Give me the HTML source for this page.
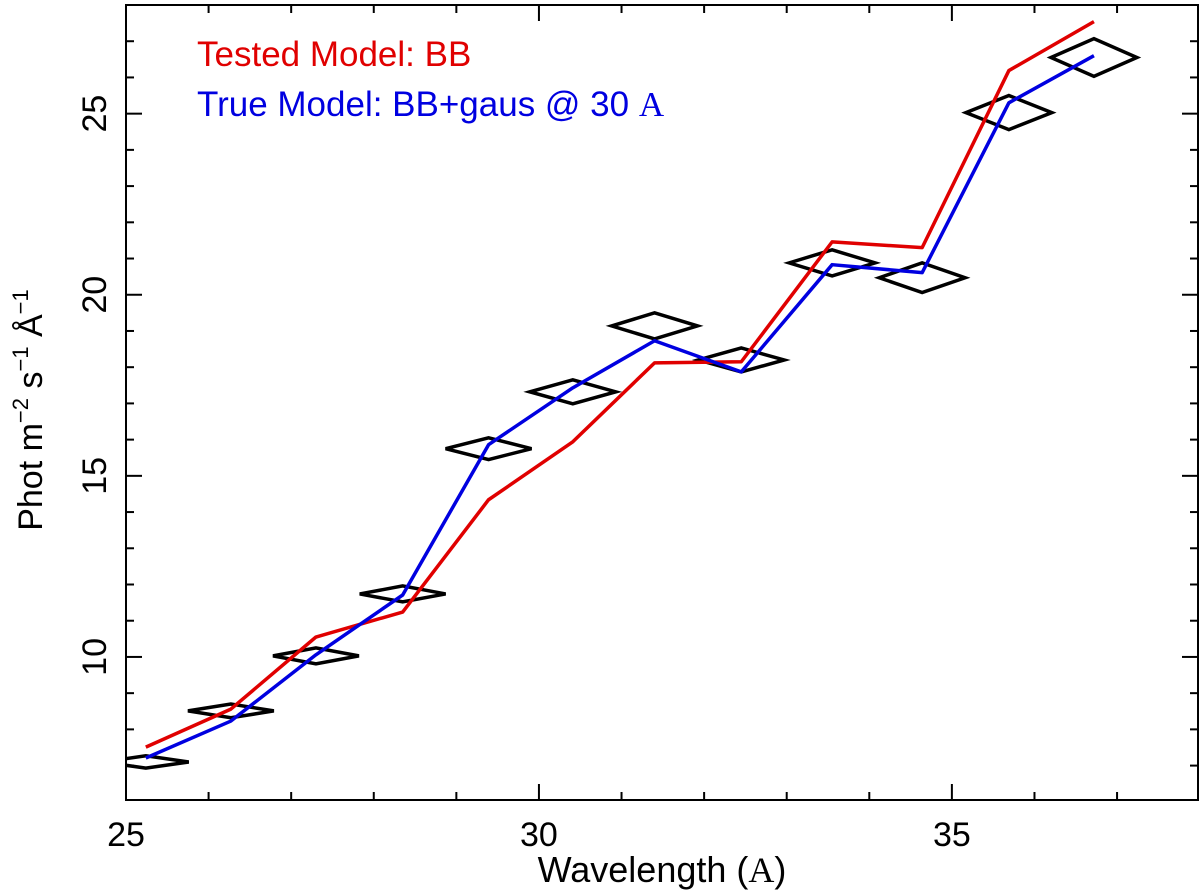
<!DOCTYPE html>
<html><head><meta charset="utf-8"><style>
html,body{margin:0;padding:0;background:#fff;}
svg{display:block;font-family:"Liberation Sans",sans-serif;}
</style></head><body>
<svg id="chart" width="1200" height="892" xmlns="http://www.w3.org/2000/svg">
<g id="ticks"></g>
<g id="data"></g>
<polyline id="red" fill="none" stroke="#e00000" stroke-width="3.5" stroke-linejoin="round"/>
<polyline id="blue" fill="none" stroke="#0000e0" stroke-width="3.5" stroke-linejoin="round"/>
<rect x="126" y="5" width="1072" height="795" fill="none" stroke="#000" stroke-width="2"/>
<text x="197" y="66" font-size="35" fill="#e00000">Tested Model: BB</text>
<text x="197" y="116" font-size="35" fill="#0000e0">True Model: BB+gaus @ 30 <tspan font-family="Liberation Serif, serif">A</tspan></text>
<text x="662" y="882" font-size="36" text-anchor="middle">Wavelength (<tspan font-family="Liberation Serif, serif">A</tspan>)</text>
<text transform="translate(42,410) rotate(-90)" font-size="34" text-anchor="middle">Phot m<tspan font-size="22" dy="-14">−2</tspan><tspan dy="14"> s</tspan><tspan font-size="22" dy="-14">−1</tspan><tspan dy="14"> Å</tspan><tspan font-size="22" dy="-14">−1</tspan></text>
<g id="labels"></g>
</svg>
<script>
const wavelength=[25.24,26.27,27.30,28.35,29.39,30.41,31.40,32.45,33.55,34.64,35.69,36.72];
const dataFlux=[7.10,8.51,10.03,11.74,15.75,17.32,19.14,18.20,20.88,20.47,25.03,26.55];
const dataErr=[0.17,0.19,0.22,0.22,0.30,0.33,0.36,0.33,0.36,0.41,0.47,0.52];
const binHalf=[0.52,0.52,0.52,0.52,0.52,0.52,0.52,0.52,0.52,0.52,0.52,0.52];
const testedModel=[7.51,8.56,10.55,11.24,14.34,15.94,18.12,18.15,21.46,21.30,26.19,27.54];
const trueModel=[7.21,8.23,10.06,11.71,15.86,17.43,18.73,17.87,20.83,20.61,25.30,26.60];
const xTickLabels=[25,30,35];
const yTickLabels=[10,15,20,25];
const X0=126,X1=1198,Y0=5,Y1=800,xmin=25,xmax=37.98,ymin=6.05,ymax=28.0;
const sx=v=>X0+(v-xmin)/(xmax-xmin)*(X1-X0);
const sy=v=>Y1-(v-ymin)/(ymax-ymin)*(Y1-Y0);
const NS="http://www.w3.org/2000/svg";
function mk(t,a){const e=document.createElementNS(NS,t);for(const k in a)e.setAttribute(k,a[k]);return e;}
const ticks=document.getElementById('ticks'),labels=document.getElementById('labels');
for(let v=25;v<=37;v++){const maj=v%5===0,L=maj?16:8,x=sx(v);
 const t1=mk('line',{x1:x,x2:x,y1:Y1,y2:Y1-L,stroke:'#000','stroke-width':2});
 ticks.appendChild(t1);
 const t2=mk('line',{x1:x,x2:x,y1:Y0,y2:Y0+L,stroke:'#000','stroke-width':2});
 ticks.appendChild(t2);}
for(let v=7;v<=28;v++){const maj=v%5===0,L=maj?16:8,y=sy(v);
 const t1=mk('line',{x1:X0,x2:X0+L,y1:y,y2:y,stroke:'#000','stroke-width':2});
 ticks.appendChild(t1);
 const t2=mk('line',{x1:X1,x2:X1-L,y1:y,y2:y,stroke:'#000','stroke-width':2});
 ticks.appendChild(t2);}
xTickLabels.forEach(v=>{const t=mk('text',{x:sx(v),y:846,'font-size':34,'text-anchor':'middle'});t.textContent=v;
 labels.appendChild(t);});
yTickLabels.forEach(v=>{const t=mk('text',{transform:`translate(${106},${sy(v)}) rotate(-90)`,'font-size':34,'text-anchor':'middle'});t.textContent=v;
 labels.appendChild(t);});
const dg=document.getElementById('data');
const cp=mk('clipPath',{id:'clip'});cp.appendChild(mk('rect',{x:X0,y:Y0,width:X1-X0,height:Y1-Y0}));dg.appendChild(cp);
dg.setAttribute('clip-path','url(#clip)');
wavelength.forEach((w,i)=>{const x=sx(w),y=sy(dataFlux[i]),l=sx(w-binHalf[i]),r=sx(w+binHalf[i]),t=sy(dataFlux[i]+dataErr[i]),b=sy(dataFlux[i]-dataErr[i]);
 const p=mk('polygon',{points:`${l},${y} ${x},${t} ${r},${y} ${x},${b}`,fill:'none',stroke:'#000','stroke-width':3.5});
 dg.appendChild(p);});
document.getElementById('red').setAttribute('points',wavelength.map((w,i)=>sx(w)+','+sy(testedModel[i])).join(' '));
document.getElementById('blue').setAttribute('points',wavelength.map((w,i)=>sx(w)+','+sy(trueModel[i])).join(' '));
</script>
</body></html>
